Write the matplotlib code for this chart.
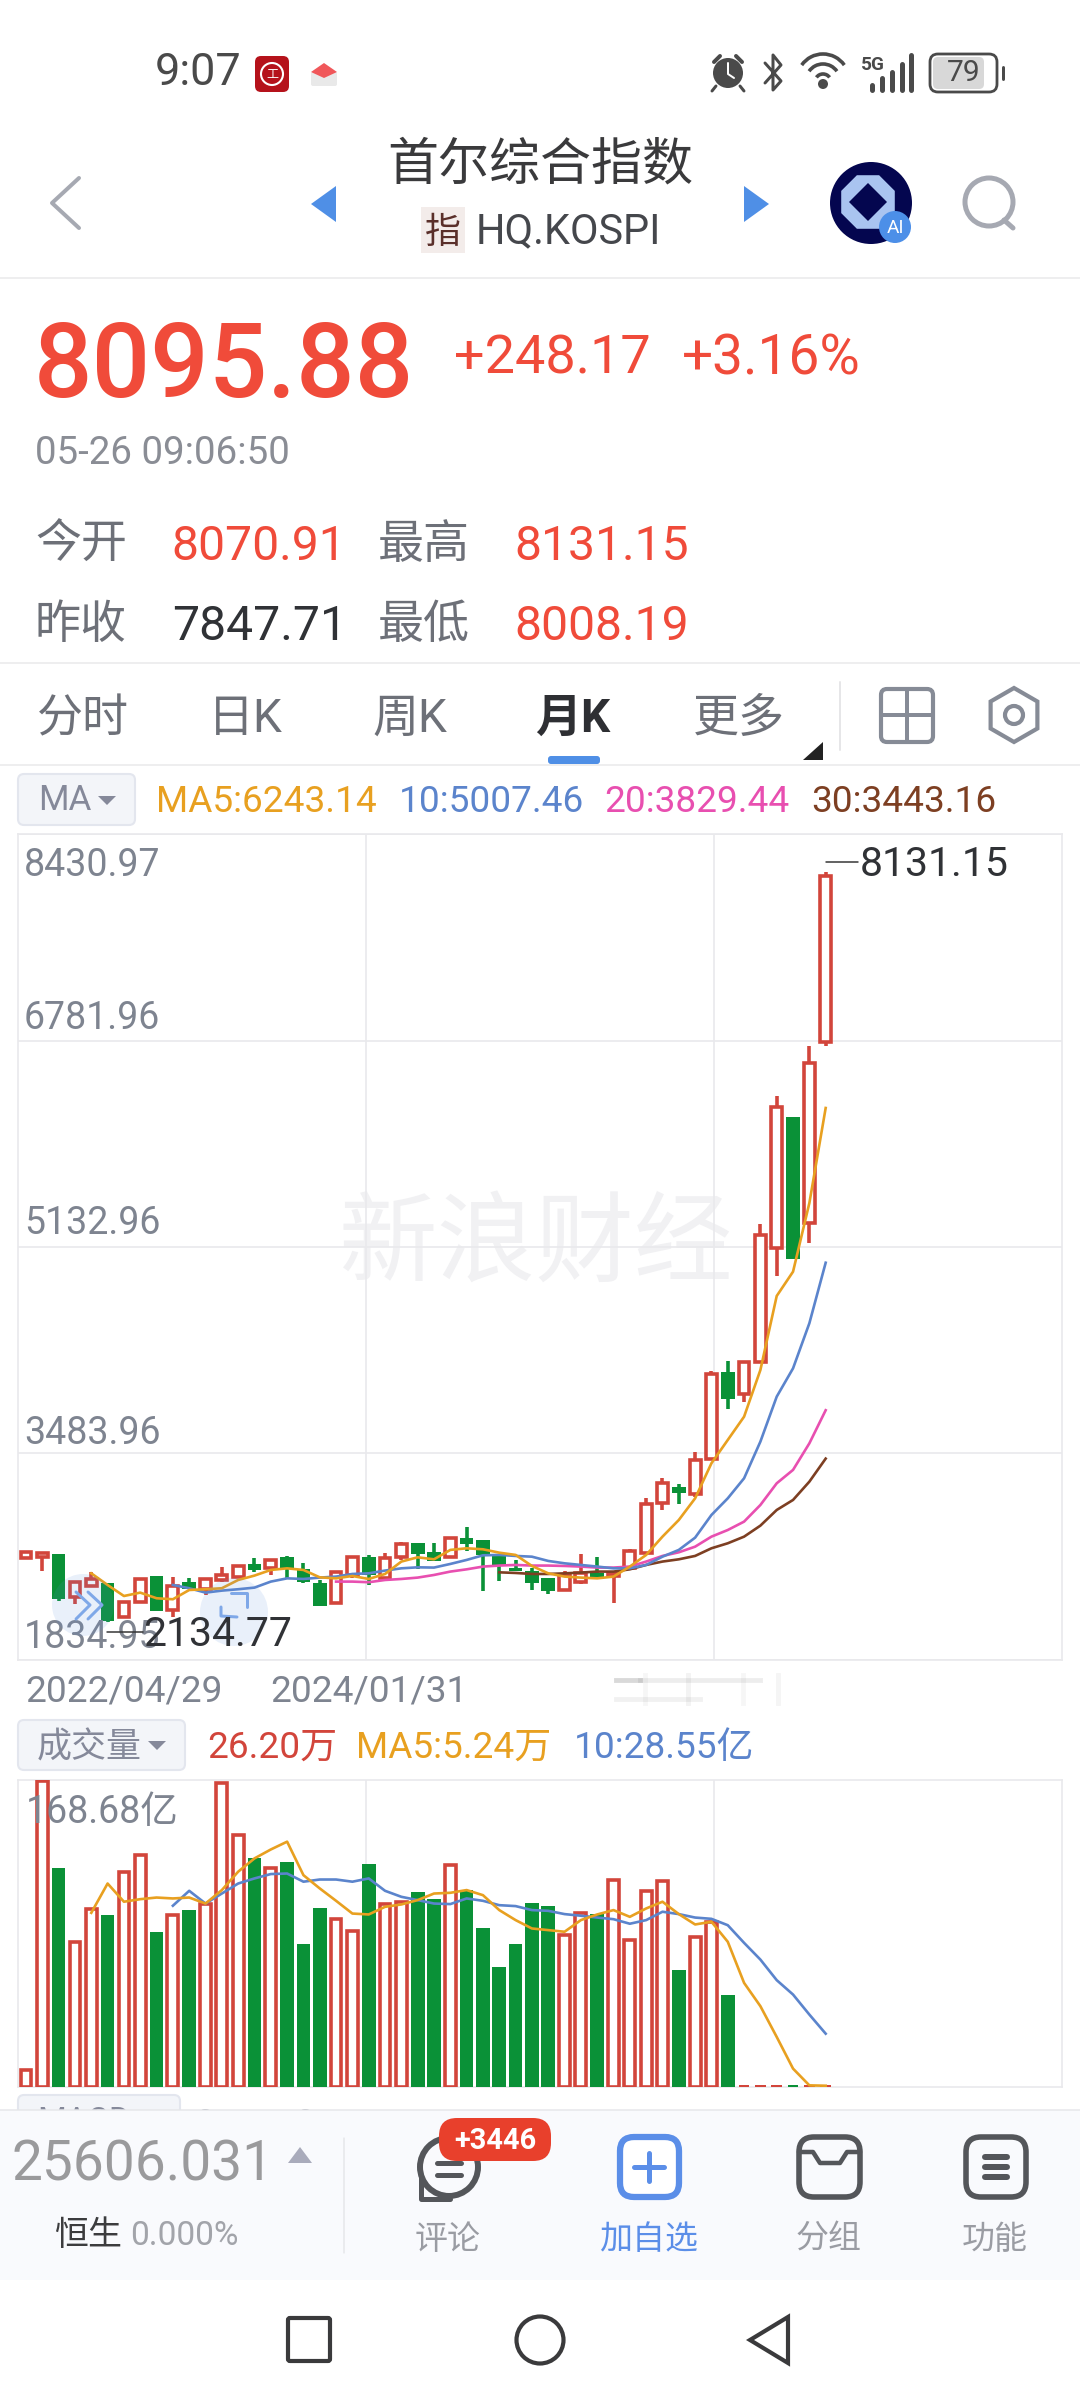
import numpy as np
import matplotlib
matplotlib.use("Agg")
import matplotlib.pyplot as plt
from matplotlib.patches import Circle, FancyBboxPatch, Polygon, Rectangle, Arc, RegularPolygon

plt.rcParams['font.family'] = ['Roboto', 'Noto Sans CJK SC', 'DejaVu Sans']

NA = float('nan')
OPEN = [2647,2660,2682,2341,2429,2453,2181,2301,2509,2235,2461,2400,2474,2501,2602,2567,2655,2559,2448,2293,2514,2655,2487,2655,2772,2700,2655,2807,2794,2674,2573,2549,2487,2394,2461,2533,2506,2573,2687,3086,3219,3158,3438,4132,3959,4218,5123,6174,5322,6772]
CLOSE = [2700,2692,2320,2455,2479,2147,2301,2482,2229,2429,2400,2482,2514,2586,2554,2634,2567,2461,2269,2535,2660,2514,2647,2759,2682,2628,2807,2759,2674,2594,2549,2448,2389,2514,2533,2479,2533,2708,3081,3251,3171,3432,4117,3917,4218,5229,6249,5037,6600,8095.88]
HIGH = [2700,2692,2682,2455,2541,2453,2301,2493,2509,2495,2487,2482,2581,2594,2647,2634,2666,2607,2474,2546,2660,2674,2692,2780,2772,2772,2807,2895,2794,2682,2634,2567,2487,2549,2682,2655,2533,2719,3126,3286,3241,3494,4146,4223,4218,5317,6339,6174,6740,8131.15]
LOW = [2647,2549,2309,2282,2421,2134.77,2168,2301,2229,2181,2400,2354,2461,2487,2541,2514,2487,2448,2269,2282,2487,2434,2474,2634,2559,2628,2647,2708,2389,2469,2549,2394,2362,2394,2442,2479,2288,2573,2687,3033,3081,3140,3438,3837,3893,4218,4902,5037,5167,6740]
MA5 = [NA]*4 + [2527,2434,2346,2373,2328,2320,2394,2400,2408,2474,2509,2554,2567,2554,2495,2487,2506,2482,2522,2621,2655,2639,2714,2727,2719,2692,2674,2586,2527,2501,2493,2487,2501,2581,2674,2820,2953,3126,3406,3592,3778,4151,4742,4936,5484,6243.14]
MA10 = [NA]*9 + [2434,2408,2373,2389,2400,2413,2461,2487,2482,2493,2501,2522,2527,2549,2567,2575,2573,2602,2634,2671,2674,2666,2660,2626,2607,2594,2581,2567,2567,2594,2660,2714,2812,2993,3126,3286,3579,3938,4164,4524,5007.46]
MA20 = [NA]*19 + [2461,2461,2456,2474,2482,2493,2514,2541,2559,2581,2589,2594,2589,2589,2586,2581,2573,2573,2581,2621,2666,2695,2740,2820,2873,2940,3073,3246,3353,3565,3829.44]
MA30 = [NA]*29 + [2535,2530,2522,2522,2527,2533,2541,2541,2559,2594,2621,2639,2666,2727,2767,2820,2908,3033,3113,3259,3443.16]
VOLUME = [9.5,168.3,120.6,79.8,97.7,94.4,117.9,127.4,84.9,94.4,97.2,100.8,166.8,138.2,125.6,120.6,123.4,78.8,98.5,92.2,85.8,122.5,100.5,101.8,106.9,103.2,121.9,108.5,87.6,66,78.3,101.2,99.7,83.4,95.7,94.8,114,80.7,107.8,113.3,64.5,82.5,90.8,50.4,1.0,1.0,1.0,1.0,1.0,1.0]
VOL_MA5 = [NA]*4 + [95.7,111.8,101.8,103.2,104.1,103.6,104.1,100.8,108.2,118.3,125.6,130.5,134.8,116.4,109.1,102.3,95.3,94.8,99,100.3,102.7,106.3,106.7,108.2,105.4,97.2,91.7,87.1,86.2,85.3,91.7,94.8,97.2,93.5,98.1,101.8,95,89.3,90.8,79.8,57.2,44.4,27.5,10.1,0.9,0.7]
VOL_MA10 = [NA]*9 + [99.6,107.8,100.8,106.3,111.8,114.6,117,117.3,112.8,114,114,112.8,114.6,107.8,104.5,102.7,100.8,100.5,103.6,102.3,99.9,99.4,97.2,96.8,95,94.1,93.1,92.2,89.7,91.7,96.3,95,93.1,92.4,88.9,79.2,70,58.7,50.8,39.8,29.3]
PRICE_TICKS = [8430.97, 6781.96, 5132.96, 3483.96, 1834.95]
DATE_LABELS = ['2022/04/29', '2024/01/31']
VOL_TOP = 168.68

RED = '#d2453b'; GREEN = '#0a9137'; C5 = '#e8a020'; C10 = '#5b84cc'; C20 = '#e84fb0'; C30 = '#7d3f22'
QUOTE = '#f04b3a'; GRAY = '#7e8490'; DARK = '#303236'; GRID = '#e9e9ec'; TAB = '#6d7078'

W, H = 1080, 2400
fig = plt.figure(figsize=(W/100, H/100), dpi=100, facecolor='white')
L, R = 18, 1062
X0, DX = 26.0, 16.32
x = np.arange(len(OPEN))
XLIM = ((L-X0)/DX, (R-X0)/DX)
lw3 = 3.6*0.72

def mk(top, bot, z=2):
    a = fig.add_axes([L/W, 1-bot/H, (R-L)/W, (bot-top)/H], zorder=z, facecolor='none')
    a.set_xlim(*XLIM)
    a.tick_params(length=0, labelbottom=False, labelleft=False)
    a.set_xticks([XLIM[0]+(XLIM[1]-XLIM[0])*k/3 for k in (1, 2)])
    a.grid(True, color=GRID, lw=1.2)
    a.set_axisbelow(True)
    for s in a.spines.values():
        s.set_color(GRID); s.set_linewidth(1.2)
    return a

ax = mk(834, 1660)
ax.set_ylim(PRICE_TICKS[-1], PRICE_TICKS[0])
ax.set_yticks(PRICE_TICKS)

ui = fig.add_axes([0, 0, 1, 1], zorder=5, facecolor='none')
ui.set_xlim(0, W); ui.set_ylim(H, 0); ui.axis('off')

ax.text(536, 1247, '新浪财经', transform=ui.transData, fontsize=71, color='#f1f1f3', ha='center', va='center', zorder=0.5)

o, c, h, l = map(np.array, (OPEN, CLOSE, HIGH, LOW))
up = c >= o
ax.vlines(x[up], l[up], h[up], color=RED, lw=lw3, zorder=3)
ax.vlines(x[~up], l[~up], h[~up], color=GREEN, lw=lw3, zorder=3)
ax.bar(x[up], (c-o)[up], bottom=o[up], width=0.66, facecolor='white', edgecolor=RED, lw=lw3, zorder=3.5)
ax.bar(x[~up], (c-o)[~up], bottom=o[~up], width=0.84, facecolor=GREEN, edgecolor=GREEN, lw=0, zorder=3.5)
for ma, col in ((MA30, C30), (MA20, C20), (MA10, C10), (MA5, C5)):
    ax.plot(x, ma, color=col, lw=1.9, zorder=4, solid_joinstyle='round')

for v, dy in zip(PRICE_TICKS, (-32, 22, 23, 20, 23)):
    ax.annotate(f'{v:.2f}', xy=(0, v), xycoords=('axes fraction', 'data'), xytext=(6, dy),
                textcoords='offset pixels', fontsize=27, color=GRAY, ha='left', va='center', zorder=5)

vx = mk(1780, 2087)
vx.set_ylim(0, VOL_TOP)
vx.set_yticks([])
vol = np.array(VOLUME)
big = vol > 5
small = ~big
vx.bar(x[up & big], vol[up & big], width=0.66, facecolor='white', edgecolor=RED, lw=lw3, zorder=3)
vx.bar(x[~up & big], vol[~up & big], width=0.84, facecolor=GREEN, lw=0, zorder=3)
vx.bar(x[up & small], vol[up & small], width=0.66, facecolor=RED, lw=0, zorder=3)
vx.bar(x[~up & small], vol[~up & small], width=0.66, facecolor=GREEN, lw=0, zorder=3)
vx.plot(x, VOL_MA10, color=C10, lw=1.9, zorder=4)
vx.plot(x, VOL_MA5, color=C5, lw=1.9, zorder=4)
vx.annotate(f'{VOL_TOP:.2f}亿', xy=(0, 1), xycoords='axes fraction', xytext=(8, -32), textcoords='offset pixels',
            fontsize=27, color=GRAY, ha='left', va='center', zorder=5)

def T(px, py, s, size, color=DARK, ha='left', va='center', weight='normal', z=6, **k):
    return ui.text(px, py+3, s, fontsize=size*0.72, color=color, ha=ha, va=va, weight=weight, zorder=z, **k)

def box(x0, y0, x1, y1, r, fc='none', ec='none', lw=0, z=4):
    p = FancyBboxPatch((x0+r, y0+r), x1-x0-2*r, y1-y0-2*r, boxstyle=f'round,pad={r},rounding_size={r}',
                       fc=fc, ec=ec, lw=lw, zorder=z)
    ui.add_patch(p); return p

def line(xs, ys, col, w=3, z=5, **k):
    ui.plot(xs, ys, color=col, lw=w*0.72, zorder=z, solid_capstyle='round', solid_joinstyle='round', **k)

def poly(pts, fc, z=5, **k):
    ui.add_patch(Polygon(pts, closed=True, fc=fc, ec=k.pop('ec', 'none'), lw=k.pop('lw', 0), zorder=z, **k))

# status bar
T(155, 70, '9:07', 45, '#4a4a4a')
box(255, 56, 289, 92, 6, fc='#b5121b')
ui.add_patch(Circle((272, 74), 11, fc='none', ec='white', lw=1.5, zorder=5))
T(272, 71, '工', 12, 'white', ha='center')
box(311, 72, 337, 86, 2, fc='#e9e9e9')
poly([(311, 72), (324, 63), (337, 72), (324, 78)], '#f0575a')
# alarm
ui.add_patch(Circle((728, 73), 15, fc='#4a4a4a', zorder=5))
line([714, 720], [62, 56], '#4a4a4a', 4); line([736, 742], [56, 62], '#4a4a4a', 4)
line([716, 712], [86, 91], '#4a4a4a', 3); line([740, 744], [86, 91], '#4a4a4a', 3)
line([728, 728, 734], [63, 74, 78], 'white', 2)
# bluetooth
line([765, 781, 773, 773, 781, 765], [63, 81, 90, 55, 65, 83], '#4a4a4a', 3)
# wifi
for r, y0 in ((26, 80), (17, 81), (8, 82)):
    ui.add_patch(Arc((823, y0), 2*r, 2*r, theta1=215, theta2=325, color='#4a4a4a', lw=2.6, zorder=5))
ui.add_patch(Circle((823, 84), 5, fc='#4a4a4a', zorder=5))
# 5G + bars
T(861, 62, '5G', 19, '#4a4a4a', weight='bold')
for bx, by in zip((872, 882, 892, 902, 911), (85, 78, 72, 64, 55)):
    line([bx, bx], [by, 90], '#4a4a4a', 5)
# battery
box(930, 54, 997, 92, 8, fc='none', ec='#4a4a4a', lw=2)
box(933, 57, 984, 89, 5, fc='#d8d8d8', z=3.5)
T(964, 70, '79', 30, '#4a4a4a', ha='center')
line([1003, 1003], [67, 79], '#4a4a4a', 3)

# title bar
line([79, 52, 79], [178, 203, 228], '#a6a9b2', 4)
poly([(336, 186), (311, 204), (336, 222)], '#4f8fe6')
poly([(744, 186), (769, 204), (744, 222)], '#4f8fe6')
T(540, 163, '首尔综合指数', 51, '#3a3a3c', ha='center')
ui.add_patch(Rectangle((421, 207), 44, 46, fc='#f3ecea', zorder=4))
T(443, 230, '指', 36, '#5a2f2a', ha='center')
T(476, 229, 'HQ.KOSPI', 41.5, '#45474c')
ui.add_patch(Circle((871, 203), 41, fc='#04064f', zorder=4))
ui.add_patch(RegularPolygon((868, 202), 8, radius=29, orientation=np.pi/8, fc='#a9c4f0', zorder=4.5))
ui.add_patch(RegularPolygon((868, 202), 4, radius=19, fc='#04064f', zorder=4.6))
ui.add_patch(Circle((895, 227), 16, fc='#4c8fe8', zorder=5))
T(895, 225, 'AI', 19, 'white', ha='center')
ui.add_patch(Circle((989, 202), 24, fc='none', ec='#a6a9b2', lw=3.6, zorder=5))
line([1004, 1013], [220, 228], '#a6a9b2', 5)
line([0, W], [278, 278], '#eeeeef', 2)

# quote
T(34, 365, '8095.88', 103, QUOTE, weight='medium')
T(454, 356, '+248.17', 54, QUOTE)
T(682, 356, '+3.16%', 55, QUOTE)
T(35, 451, '05-26 09:06:50', 38.5, '#8a8d95')
T(35, 542, '今开', 46, TAB); T(171, 544, '8070.91', 48, QUOTE)
T(378, 542, '最高', 46, TAB); T(514, 544, '8131.15', 48, QUOTE)
T(35, 622, '昨收', 46, TAB); T(172, 624, '7847.71', 48, DARK)
T(378, 622, '最低', 46, TAB); T(514, 624, '8008.19', 48, QUOTE)
line([0, W], [663, 663], '#eeeeef', 2)

# tabs
for px, s, col, wt in ((37, '分时', TAB, 'normal'), (208, '日K', TAB, 'normal'), (372, '周K', TAB, 'normal'),
                       (535, '月K', '#2e2f33', 'bold'), (693, '更多', TAB, 'normal')):
    T(px, 716, s, 46, col, weight=wt)
box(548, 756, 600, 764, 3, fc='#4f8fe6')
poly([(823, 742), (823, 760), (803, 760)], '#222222')
line([840, 840], [682, 750], '#e6e6e8', 2)
box(881, 689, 933, 742, 6, ec='#868b96', lw=3)
line([907, 907], [689, 742], '#868b96', 4); line([881, 933], [715, 715], '#868b96', 4)
ui.add_patch(RegularPolygon((1014, 715), 6, radius=27, fc='none', ec='#868b96', lw=3, zorder=5))
ui.add_patch(Circle((1014, 715), 9, fc='none', ec='#868b96', lw=3, zorder=5))
line([0, W], [765, 765], '#eeeeef', 2)

# MA row
box(18, 774, 135, 825, 6, fc='#f3f5f9', ec='#e3e6ee', lw=1.5)
T(38, 798, 'MA', 35, '#85899a')
poly([(98, 796), (116, 796), (107, 805)], '#85899a')
T(156, 799, 'MA5:6243.14', 37, C5)
T(399, 799, '10:5007.46', 37, C10)
T(604, 799, '20:3829.44', 37, C20)
T(811, 799, '30:3443.16', 37, C30)

# high / low labels
line([826, 858], [862, 862], '#333333', 1.5)
T(860, 861, '8131.15', 41, DARK)
line([107, 143], [1632, 1632], '#333333', 1.5)
T(143, 1631, '2134.77', 41, DARK)

# hover circles
ui.add_patch(Circle((83, 1605), 31, fc='#5b8fe0', alpha=0.13, zorder=4))
ui.add_patch(Circle((234, 1612), 34, fc='#5b8fe0', alpha=0.13, zorder=4))
line([76, 90, 76], [1592, 1605, 1619], '#7fa8e8', 3); line([88, 102, 88], [1592, 1605, 1619], '#7fa8e8', 3)
line([221, 221, 237], [1607, 1616, 1617], '#7fa8e8', 3); line([231, 247, 247], [1593, 1593, 1607], '#7fa8e8', 3)

# dates
T(25, 1688, DATE_LABELS[0], 37, GRAY)
T(270, 1688, DATE_LABELS[1], 37, GRAY)
# blurred redaction
for a, xs, ys in ((0.22, (616, 640), (1680, 1680)), (0.10, (640, 760), (1680, 1680)), (0.08, (616, 700), (1699, 1699)),
                  (0.05, (645, 645), (1675, 1703)), (0.07, (688, 688), (1675, 1703)), (0.05, (743, 743), (1675, 1703)),
                  (0.06, (778, 778), (1675, 1703))):
    ui.plot(xs, ys, color='#555555', alpha=a, lw=3.5, zorder=4)

# volume header
box(18, 1720, 185, 1770, 6, fc='#f3f5f9', ec='#e3e6ee', lw=1.5)
T(37, 1745, '成交量', 35, '#85899a')
poly([(148, 1741), (166, 1741), (157, 1750)], '#85899a')
T(207, 1745, '26.20万', 37, RED)
T(356, 1745, 'MA5:5.24万', 37, C5)
T(574, 1745, '10:28.55亿', 37, C10)

# clipped MACD row
box(18, 2095, 180, 2130, 6, fc='#f3f5f9', ec='#e3e6ee', lw=1.5, z=3)
T(37, 2119, 'MACD', 33, '#85899a', z=3)
T(196, 2119, '0', 30, '#85899a', z=3)
T(296, 2119, '0', 30, '#85899a', z=3)

# bottom bar
ui.add_patch(Rectangle((0, 2110), W, 170, fc='#f9fafd', ec='none', zorder=4))
line([0, W], [2110, 2110], '#e6e7ea', 1.5)
T(12, 2162, '25606.031', 55, '#9a9a9c')
poly([(288, 2163), (312, 2163), (300, 2147)], '#a9abbb')
T(54, 2233, '恒生', 34, '#3c3c3e')
T(130, 2233, '0.000%', 33.5, '#a2a4aa')
line([344, 344], [2138, 2253], '#e6e7ea', 1.5)
ICON = '#54565a'
# comment
ui.add_patch(Circle((449, 2167), 29, fc='none', ec=ICON, lw=4.6*0.72+1, zorder=5))
line([421, 421, 450], [2175, 2199, 2199], ICON, 5)
line([437, 461], [2163, 2163], ICON, 5); line([437, 461], [2175, 2175], ICON, 5)
box(439, 2118, 551, 2161, 18, fc='#e8402c', z=5.5)
T(495, 2138, '+3446', 29, 'white', ha='center', weight='bold')
# add
box(620, 2137, 679, 2197, 14, fc='white', ec='#5b8ee8', lw=4.5)
line([649, 649], [2153, 2181], '#5b8ee8', 5); line([634, 664], [2167, 2167], '#5b8ee8', 5)
# group
box(799, 2137, 860, 2197, 15, ec=ICON, lw=4)
line([799, 813, 820, 840, 847, 860], [2152, 2152, 2163, 2163, 2152, 2152], ICON, 4.5)
# function
box(966, 2137, 1026, 2197, 15, ec=ICON, lw=4)
for yy in (2157, 2167, 2177):
    line([985, 1007], [yy, yy], ICON, 6)
for cx, s, col in ((448, '评论', '#9a9ca3'), (649, '加自选', '#5b8ee8'), (829, '分组', '#9a9ca3'), (995, '功能', '#9a9ca3')):
    T(cx, 2237, s, 33, col, ha='center')

# nav
box(288, 2318, 330, 2361, 2, ec='#3a3a3c', lw=3)
ui.add_patch(Circle((540, 2340), 23.5, fc='none', ec='#3a3a3c', lw=3, zorder=5))
poly([(788, 2317), (750, 2340), (788, 2363)], 'none', ec='#3a3a3c', lw=3)

fig.savefig('out.png', dpi=100, facecolor='white')
